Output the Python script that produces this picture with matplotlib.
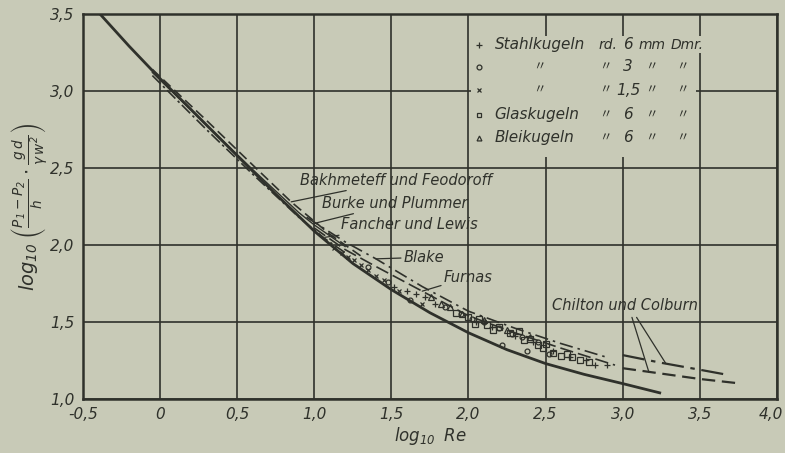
import matplotlib
matplotlib.use("Agg")
import matplotlib.pyplot as plt
from matplotlib.patches import Rectangle
from matplotlib.transforms import ScaledTranslation

plt.rcParams['font.family'] = ['DejaVu Sans', 'Noto Sans CJK JP']
plt.rcParams['font.style'] = 'italic'
plt.rcParams['mathtext.fontset'] = 'dejavusans'
plt.rcParams['mathtext.default'] = 'it'

BG = '#c8cab7'
INK = '#2f312b'

# curves (log10 Re, log10 of the resistance group)
main_x = [-0.39, -0.2, 0.0, 0.25, 0.5, 0.75, 1.0, 1.25, 1.5, 1.75, 2.0, 2.25, 2.5, 2.75, 3.0, 3.24]
main_y = [3.50, 3.29, 3.08, 2.83, 2.58, 2.33, 2.09, 1.88, 1.71, 1.56, 1.43, 1.32, 1.23, 1.16, 1.10, 1.04]

bakh_x = [-0.05, 0.3, 0.6, 0.85, 1.1, 1.3]
bakh_y = [3.14, 2.81, 2.52, 2.28, 2.07, 1.93]

burke_x = [-0.05, 0.3, 0.6, 0.9, 1.0, 1.2]
burke_y = [3.12, 2.78, 2.49, 2.21, 2.13, 1.99]

fancher_x = [-0.05, 0.3, 0.6, 0.9, 1.07, 1.2]
fancher_y = [3.10, 2.75, 2.46, 2.18, 2.04, 1.95]

blake_x = [0.95, 1.2, 1.4, 1.7, 2.0, 2.3, 2.6, 2.9]
blake_y = [2.18, 2.02, 1.91, 1.73, 1.57, 1.46, 1.36, 1.27]

furnas_x = [1.0, 1.2, 1.4, 1.7, 2.0, 2.3, 2.6, 2.95]
furnas_y = [2.11, 1.97, 1.86, 1.70, 1.54, 1.43, 1.33, 1.22]

chilton1_x = [3.0, 3.25, 3.5, 3.69]
chilton1_y = [1.285, 1.235, 1.19, 1.155]
chilton2_x = [3.0, 3.25, 3.5, 3.77]
chilton2_y = [1.20, 1.165, 1.13, 1.10]

# measured points
stahl6_x = [1.52, 1.60, 1.66, 1.72, 1.78, 2.05, 2.15, 2.30, 2.42, 2.55, 2.66, 2.76, 2.82, 2.90]
stahl6_y = [1.73, 1.70, 1.68, 1.66, 1.62, 1.50, 1.47, 1.41, 1.37, 1.31, 1.27, 1.25, 1.22, 1.22]
stahl3_x = [1.35, 1.48, 1.62, 1.85, 1.95, 2.02, 2.10, 2.20, 2.22, 2.28, 2.35, 2.38, 2.45, 2.52]
stahl3_y = [1.86, 1.76, 1.64, 1.60, 1.55, 1.52, 1.50, 1.46, 1.35, 1.42, 1.40, 1.31, 1.37, 1.29]
stahl15_x = [1.13, 1.18, 1.22, 1.26, 1.30, 1.35, 1.40, 1.45, 1.55, 1.70]
stahl15_y = [1.98, 1.95, 1.92, 1.90, 1.87, 1.84, 1.80, 1.77, 1.70, 1.62]
glas_x = [1.92, 2.00, 2.04, 2.07, 2.12, 2.16, 2.20, 2.27, 2.33, 2.36, 2.40, 2.45, 2.48, 2.50,
          2.55, 2.60, 2.64, 2.67, 2.72, 2.78]
glas_y = [1.56, 1.53, 1.49, 1.52, 1.48, 1.45, 1.47, 1.43, 1.44, 1.38, 1.39, 1.35, 1.33, 1.36,
          1.30, 1.28, 1.29, 1.27, 1.25, 1.24]
blei_x = [1.76, 1.82, 1.88, 1.96, 2.10, 2.25, 2.40]
blei_y = [1.66, 1.62, 1.60, 1.55, 1.51, 1.45, 1.40]

xticks = [-0.5, 0, 0.5, 1.0, 1.5, 2.0, 2.5, 3.0, 3.5, 4.0]
xlabels = ['-0,5', '0', '0,5', '1,0', '1,5', '2,0', '2,5', '3,0', '3,5', '4,0']
yticks = [1.0, 1.5, 2.0, 2.5, 3.0, 3.5]
ylabels = ['1,0', '1,5', '2,0', '2,5', '3,0', '3,5']

fig = plt.figure(figsize=(7.85, 4.53), dpi=100, facecolor=BG)
ax = fig.add_axes([0.1057, 0.1192, 0.884, 0.85], facecolor=BG)
ax.set_xlim(-0.5, 4.0)
ax.set_ylim(1.0, 3.5)
ax.set_xticks(xticks)
ax.set_xticklabels(xlabels)
ax.set_yticks(yticks)
ax.set_yticklabels(ylabels)
ax.tick_params(length=0, labelsize=11, colors=INK, pad=6)
ax.grid(True, color=INK, lw=1.2)
ax.set_axisbelow(True)
for s in ax.spines.values():
    s.set_color(INK)
    s.set_linewidth(1.8)
last = ax.get_xticklabels()[-1]
last.set_horizontalalignment('right')
last.set_transform(last.get_transform() + ScaledTranslation(0.06, 0, fig.dpi_scale_trans))

# curves
ax.plot(main_x, main_y, color=INK, lw=2.0, zorder=3)
ax.plot(bakh_x, bakh_y, color=INK, lw=1.2, ls=(0, (6, 3)), zorder=3)
ax.plot(burke_x, burke_y, color=INK, lw=1.0, zorder=3)
ax.plot(fancher_x, fancher_y, color=INK, lw=1.2, ls=(0, (7, 2, 1.5, 2)), zorder=3)
ax.plot(blake_x, blake_y, color=INK, lw=1.2, ls=(0, (8, 3, 1.5, 3)), zorder=3)
ax.plot(furnas_x, furnas_y, color=INK, lw=1.2, ls=(0, (8, 3)), zorder=3)
ax.plot(chilton1_x, chilton1_y, color=INK, lw=1.6, ls=(0, (10, 3, 2, 3)), zorder=3)
ax.plot(chilton2_x, chilton2_y, color=INK, lw=1.6, ls=(0, (6, 3)), zorder=3)

mk = dict(color=INK, ls='none', mfc='none', mew=0.9, zorder=4)
ax.plot(stahl6_x, stahl6_y, marker='+', ms=5, **mk)
ax.plot(stahl3_x, stahl3_y, marker='o', ms=3.5, **mk)
ax.plot(stahl15_x, stahl15_y, marker='x', ms=3.5, **mk)
ax.plot(glas_x, glas_y, marker='s', ms=4, **mk)
ax.plot(blei_x, blei_y, marker='^', ms=4, **mk)

# curve labels with leader lines
lead = dict(arrowstyle='-', color=INK, lw=0.9, shrinkA=0, shrinkB=0)
tkw = dict(fontsize=10.5, color=INK, va='center', ha='left')
ax.annotate('Bakhmeteff und Feodoroff', xy=(0.85, 2.28), xytext=(0.91, 2.42), arrowprops=lead, **tkw)
ax.annotate('Burke und Plummer', xy=(1.0, 2.14), xytext=(1.05, 2.27), arrowprops=lead, **tkw)
ax.annotate('Fancher und Lewis', xy=(1.07, 2.05), xytext=(1.17, 2.13), arrowprops=lead, **tkw)
ax.annotate('Blake', xy=(1.40, 1.91), xytext=(1.58, 1.92), arrowprops=lead, **tkw)
ax.annotate('Furnas', xy=(1.70, 1.70), xytext=(1.84, 1.79), arrowprops=lead, **tkw)
ax.text(2.54, 1.61, 'Chilton und Colburn', **tkw)
ax.annotate('', xy=(3.17, 1.174), xytext=(3.06, 1.53), arrowprops=lead)
ax.annotate('', xy=(3.28, 1.23), xytext=(3.09, 1.53), arrowprops=lead)

# legend block
ax.add_patch(Rectangle((2.015, 2.57), 1.46, 0.79, facecolor=BG, edgecolor='none', zorder=2))
leg_rows = [3.30, 3.156, 3.006, 2.844, 2.695]
leg_markers = ['+', 'o', 'x', 's', '^']
leg_names = ['Stahlkugeln', '\u3003', '\u3003', 'Glaskugeln', 'Bleikugeln']
leg_sizes = ['6', '3', '1,5', '6', '6']
ditto = '\u3003'
lkw = dict(fontsize=11, color=INK, va='center', zorder=5)
rkw = dict(fontsize=10, color=INK, va='center', zorder=5)
dkw = dict(fontsize=9, color=INK, va='center', ha='center', zorder=5)
for yy, m, name, size in zip(leg_rows, leg_markers, leg_names, leg_sizes):
    ax.plot([2.07], [yy], marker=m, ms=4.5 if m == '+' else 3.5, **mk)
    if name == ditto:
        ax.text(2.46, yy, name, **dkw)
    else:
        ax.text(2.17, yy, name, ha='left', **lkw)
    ax.text(3.035, yy, size, ha='center', fontsize=11, color=INK, va='center', zorder=5)
    if name == 'Stahlkugeln':
        ax.text(2.84, yy, 'rd.', ha='left', **rkw)
        ax.text(3.19, yy, 'mm', ha='center', **rkw)
        ax.text(3.313, yy, 'Dmr.', ha='left', bbox=dict(fc=BG, ec='none', pad=1), **rkw)
    else:
        for xd in [2.885, 3.185, 3.39]:
            ax.text(xd, yy, ditto, **dkw)

ax.set_xlabel(r'$log_{10}\;\;Re$', fontsize=12, color=INK, labelpad=2)
ax.set_ylabel(r'$log_{10}\;\left(\frac{P_1-P_2}{h}\cdot\frac{g\,d}{\gamma\,w^2}\right)$',
              fontsize=14, color=INK, labelpad=0)

fig.savefig('out.png', dpi=100, facecolor=BG)
